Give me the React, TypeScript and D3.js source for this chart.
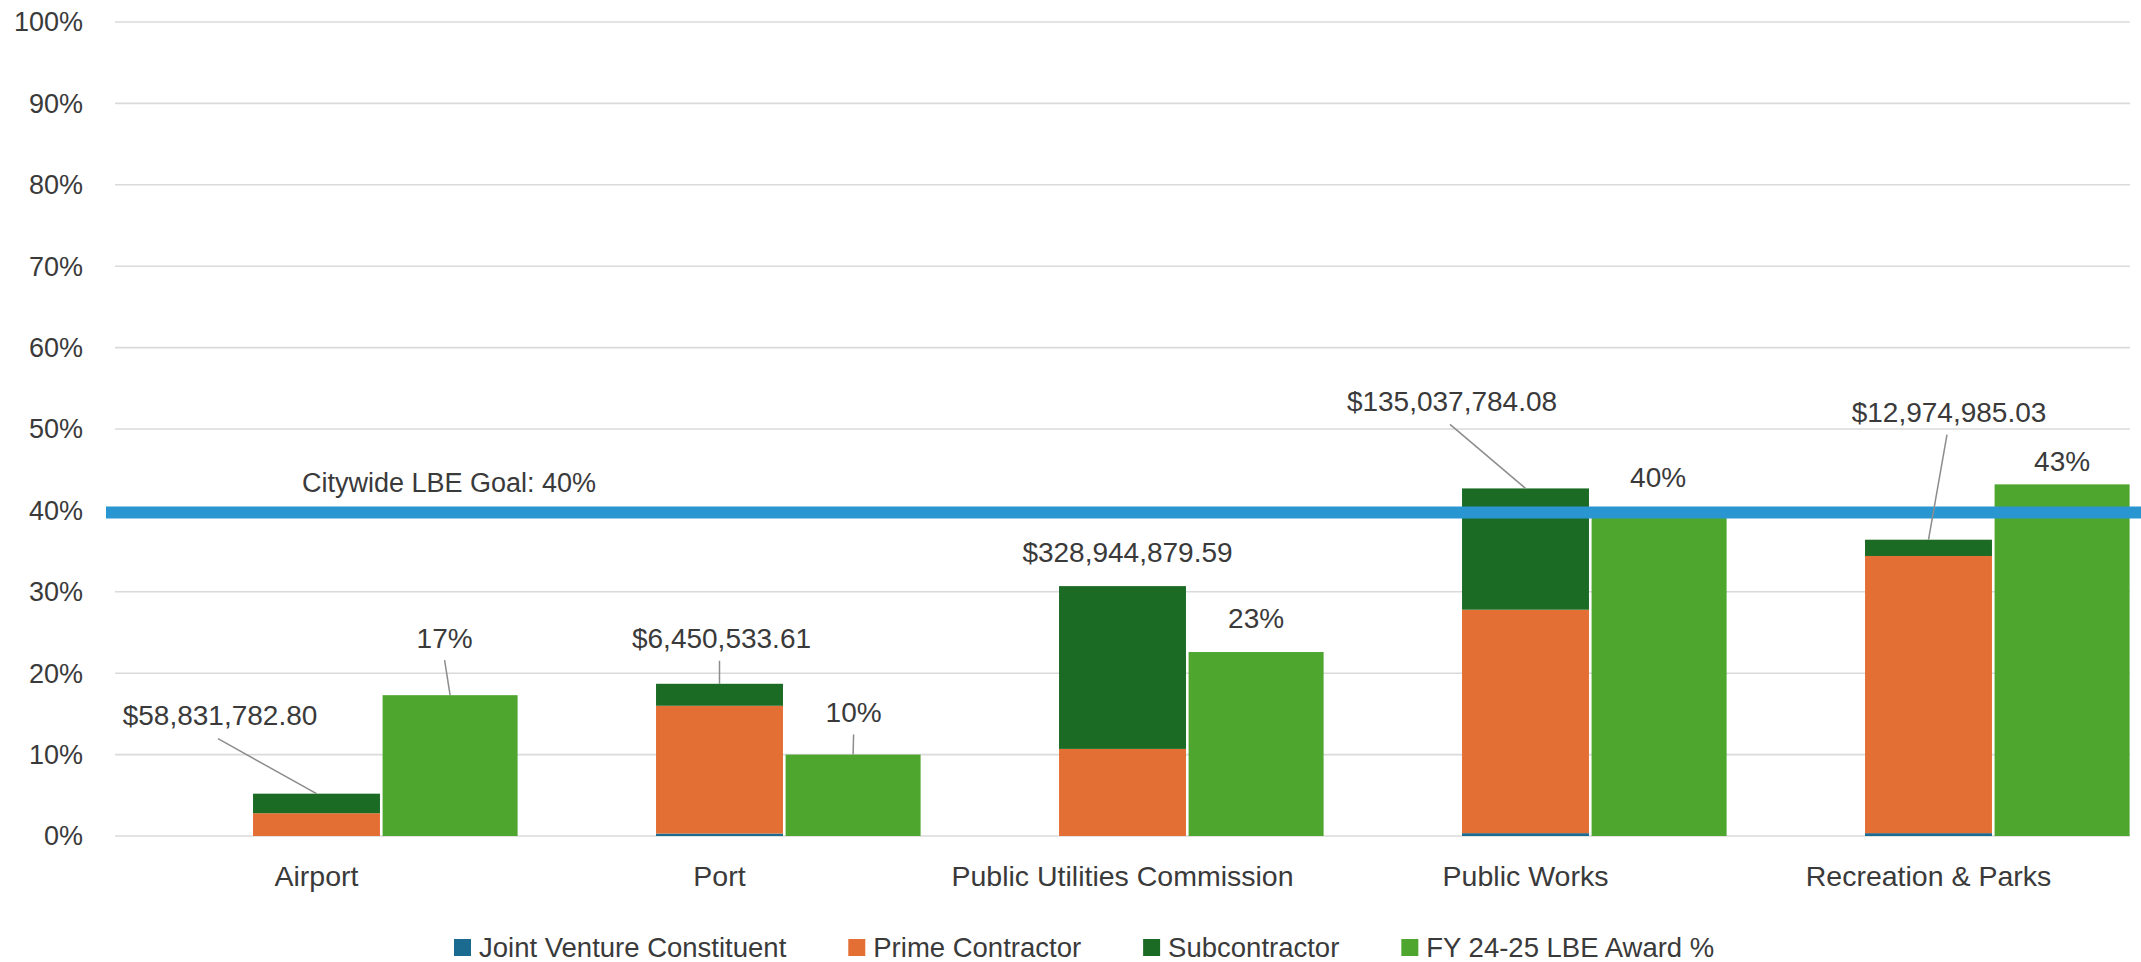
import React from "react";
import * as d3 from "d3";

const categories = ["Airport", "Port", "Public Utilities Commission", "Public Works", "Recreation & Parks"];
const jointVenture = [0, 0.3, 0, 0.35, 0.35];
const primeContractor = [2.8, 15.7, 10.7, 27.45, 34.05];
const subcontractor = [2.4, 2.7, 20.0, 14.9, 2.0];
const awardPct = [17.3, 10.0, 22.6, 39.6, 43.2];
const awardLabels = ["17%", "10%", "23%", "40%", "43%"];
const dollarLabels = ["$58,831,782.80", "$6,450,533.61", "$328,944,879.59", "$135,037,784.08", "$12,974,985.03"];
const yTicks = [0, 10, 20, 30, 40, 50, 60, 70, 80, 90, 100];
const goalValue = 40;
const goalLabel = "Citywide LBE Goal: 40%";
const seriesNames = ["Joint Venture Constituent", "Prime Contractor", "Subcontractor", "FY 24-25 LBE Award %"];

// layout (not data): label offsets relative to bar top centre, with leader flag
const dollarOffsets: [number, number, boolean][] = [
  [-96.5, -78, true],
  [2, -46, true],
  [5, -34, false],
  [-73.5, -87, true],
  [20.5, -128, true],
];
const pctOffsets: [number, number, boolean][] = [
  [-5.5, -57, true],
  [0.5, -42, true],
  [0, -34, false],
  [-1, -36, false],
  [0, -23, false],
];

const W = 2141;
const H = 962;
const FONT = "'Liberation Sans', Arial, sans-serif";
const FS = 27;
const FS_LABEL = 28;
const FS_CAT = 28.5;
const FS_LEG = 27.5;
const TEXT = "#3a3a3a";
const colors = ["#1B6A8F", "#E46F35", "#1C6B25", "#4EA62F"];
const goalColor = "#2A96D1";

function measure(t: string, fs: number): number {
  const c = document.createElement("canvas").getContext("2d");
  if (!c) return t.length * fs * 0.5;
  c.font = `${fs}px 'Liberation Sans', Arial, sans-serif`;
  return c.measureText(t).width;
}

export default function App() {
  const x = d3.scaleBand<string>().domain(categories).range([115, 2130]).padding(0);
  const y = d3.scaleLinear().domain([0, 100]).range([836, 22]);
  const bw = x.bandwidth();
  const center = (c: string) => (x(c) as number) + bw / 2;

  const rows = categories.map((c, i) => ({
    cat: c,
    jv: jointVenture[i],
    prime: primeContractor[i],
    sub: subcontractor[i],
  }));
  const stack = d3.stack<any>().keys(["jv", "prime", "sub"])(rows);

  const stW = bw * 0.315;
  const grOff = bw * 0.164;
  const grW = bw * 0.335;

  // legend layout
  let lx = 454;
  const legendItems = seriesNames.map((n, i) => {
    const item = { name: n, color: colors[i], x: lx };
    lx += 25 + measure(n, FS_LEG) + 62;
    return item;
  });

  return (
    <svg width={W} height={H} style={{ position: "absolute", left: 0, top: 0, background: "#fff" }} fontFamily={FONT}>
      <rect width={W} height={H} fill="#fff" />
      {yTicks.map((t) => (
        <g key={t}>
          <line x1={115} x2={2130} y1={y(t)} y2={y(t)} stroke="#dadada" strokeWidth={1.6} />
          <text x={83} y={y(t)} dy="0.35em" textAnchor="end" fontSize={FS} fill={TEXT}>
            {t}%
          </text>
        </g>
      ))}
      {stack.map((s, si) => (
        <g key={si} fill={colors[si]}>
          {s.map((d, i) => (
            <rect
              key={i}
              x={center(categories[i]) - stW / 2}
              width={stW}
              y={y(d[1])}
              height={Math.max(0, y(d[0]) - y(d[1]))}
            />
          ))}
        </g>
      ))}
      {awardPct.map((v, i) => (
        <rect key={i} x={center(categories[i]) + grOff} width={grW} y={y(v)} height={y(0) - y(v)} fill={colors[3]} />
      ))}
      {/* goal line */}
      <line x1={106} x2={W} y1={y(goalValue) + 2} y2={y(goalValue) + 2} stroke={goalColor} strokeWidth={12} />
      <text x={449} y={y(goalValue) - 28} dy="0.35em" textAnchor="middle" fontSize={FS} fill={TEXT}>
        {goalLabel}
      </text>
      {/* dollar labels */}
      {dollarLabels.map((lab, i) => {
        const total = jointVenture[i] + primeContractor[i] + subcontractor[i];
        const bx = center(categories[i]);
        const by = y(total);
        const [dx, dy, leader] = dollarOffsets[i];
        const tx = bx + dx;
        const ty = by + dy;
        return (
          <g key={i}>
            {leader && <line x1={tx - 2} y1={ty + 23} x2={bx} y2={by} stroke="#8c8c8c" strokeWidth={1.5} />}
            <text x={tx} y={ty} dy="0.35em" textAnchor="middle" fontSize={FS_LABEL} fill={TEXT}>
              {lab}
            </text>
          </g>
        );
      })}
      {awardLabels.map((lab, i) => {
        const bx = center(categories[i]) + grOff + grW / 2;
        const by = y(awardPct[i]);
        const [dx, dy, leader] = pctOffsets[i];
        const tx = bx + dx;
        const ty = by + dy;
        return (
          <g key={i}>
            {leader && <line x1={tx} y1={ty + 22} x2={bx} y2={by} stroke="#8c8c8c" strokeWidth={1.5} />}
            <text x={tx} y={ty} dy="0.35em" textAnchor="middle" fontSize={FS_LABEL} fill={TEXT}>
              {lab}
            </text>
          </g>
        );
      })}
      {categories.map((c) => (
        <text key={c} x={center(c)} y={876.5} dy="0.35em" textAnchor="middle" fontSize={FS_CAT} fill={TEXT}>
          {c}
        </text>
      ))}
      {legendItems.map((it) => (
        <g key={it.name}>
          <rect x={it.x} y={939} width={17} height={17} fill={it.color} />
          <text x={it.x + 25} y={947.5} dy="0.35em" fontSize={FS_LEG} fill={TEXT}>
            {it.name}
          </text>
        </g>
      ))}
    </svg>
  );
}
